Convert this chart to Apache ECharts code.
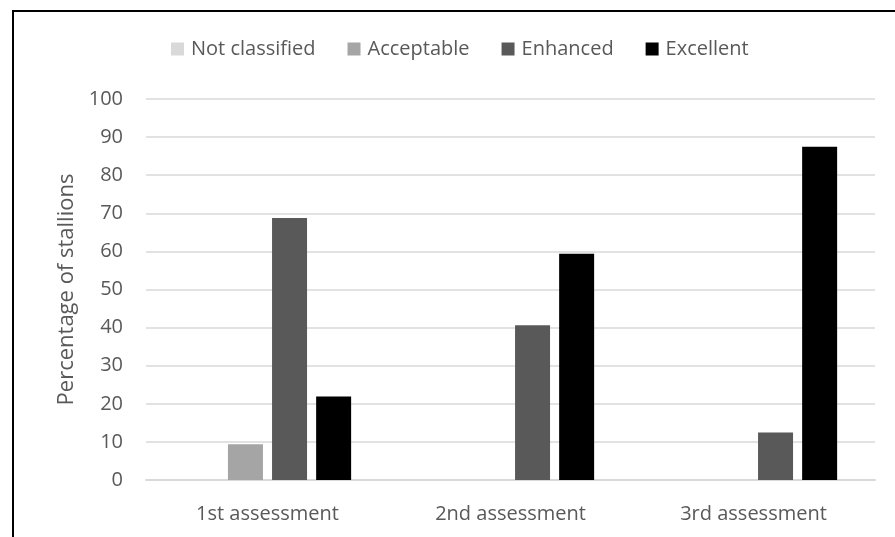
<!DOCTYPE html>
<html>
<head>
<meta charset="utf-8">
<script src="https://cdn.jsdelivr.net/npm/echarts@6/dist/echarts.min.js"></script>
<style>
  html, body { margin: 0; padding: 0; background: #fff; }
  #main { width: 895px; height: 537px; }
</style>
</head>
<body>
<div id="main"></div>
<script>
var categories = ['1st assessment', '2nd assessment', '3rd assessment'];
var notClassified = [0, 0, 0];
var acceptable = [9.4, 0, 0];
var enhanced = [68.75, 40.6, 12.5];
var excellent = [21.9, 59.4, 87.5];
var yTicks = [0, 10, 20, 30, 40, 50, 60, 70, 80, 90, 100];

var font = 'Open Sans';
var txt = '#595959';

function bar(name, data, color) {
  return {
    name: name,
    type: 'bar',
    data: data,
    barWidth: '14.4%',
    barGap: '26%',
    itemStyle: { color: color, borderWidth: 0 }
  };
}

var chart = echarts.init(document.getElementById('main'));
chart.setOption({
  animation: false,
  textStyle: { fontFamily: font },
  graphic: [{
    type: 'rect',
    shape: { x: 13, y: 11, width: 1000, height: 700 },
    style: { fill: 'none', stroke: '#000', lineWidth: 2 },
    silent: true
  }],
  legend: {
    top: 34,
    left: 166,
    itemWidth: 13,
    itemHeight: 13,
    itemGap: 32,
    icon: 'rect',
    itemStyle: { borderWidth: 0 },
    textStyle: { color: txt, fontSize: 20, fontFamily: font, padding: [0, 0, 0, 2] }
  },
  grid: { left: 146, right: 20, top: 99, bottom: 57 },
  xAxis: {
    type: 'category',
    data: categories,
    axisLine: { lineStyle: { color: '#d9d9d9', width: 2 } },
    axisTick: { show: false },
    axisLabel: { color: txt, fontSize: 20, margin: 24, fontFamily: font }
  },
  yAxis: {
    type: 'value',
    min: yTicks[0],
    max: yTicks[yTicks.length - 1],
    interval: 10,
    name: 'Percentage of stallions',
    nameLocation: 'middle',
    nameGap: 66,
    nameTextStyle: { color: txt, fontSize: 22, fontFamily: font },
    axisLine: { show: false },
    axisTick: { show: false },
    axisLabel: { color: txt, fontSize: 20, margin: 23, fontFamily: font },
    splitLine: { lineStyle: { color: '#d9d9d9', width: 1.5 } }
  },
  series: [
    bar('Not classified', notClassified, '#d9d9d9'),
    bar('Acceptable', acceptable, '#a5a5a5'),
    bar('Enhanced', enhanced, '#595959'),
    bar('Excellent', excellent, '#000000')
  ]
});
</script>
</body>
</html>
